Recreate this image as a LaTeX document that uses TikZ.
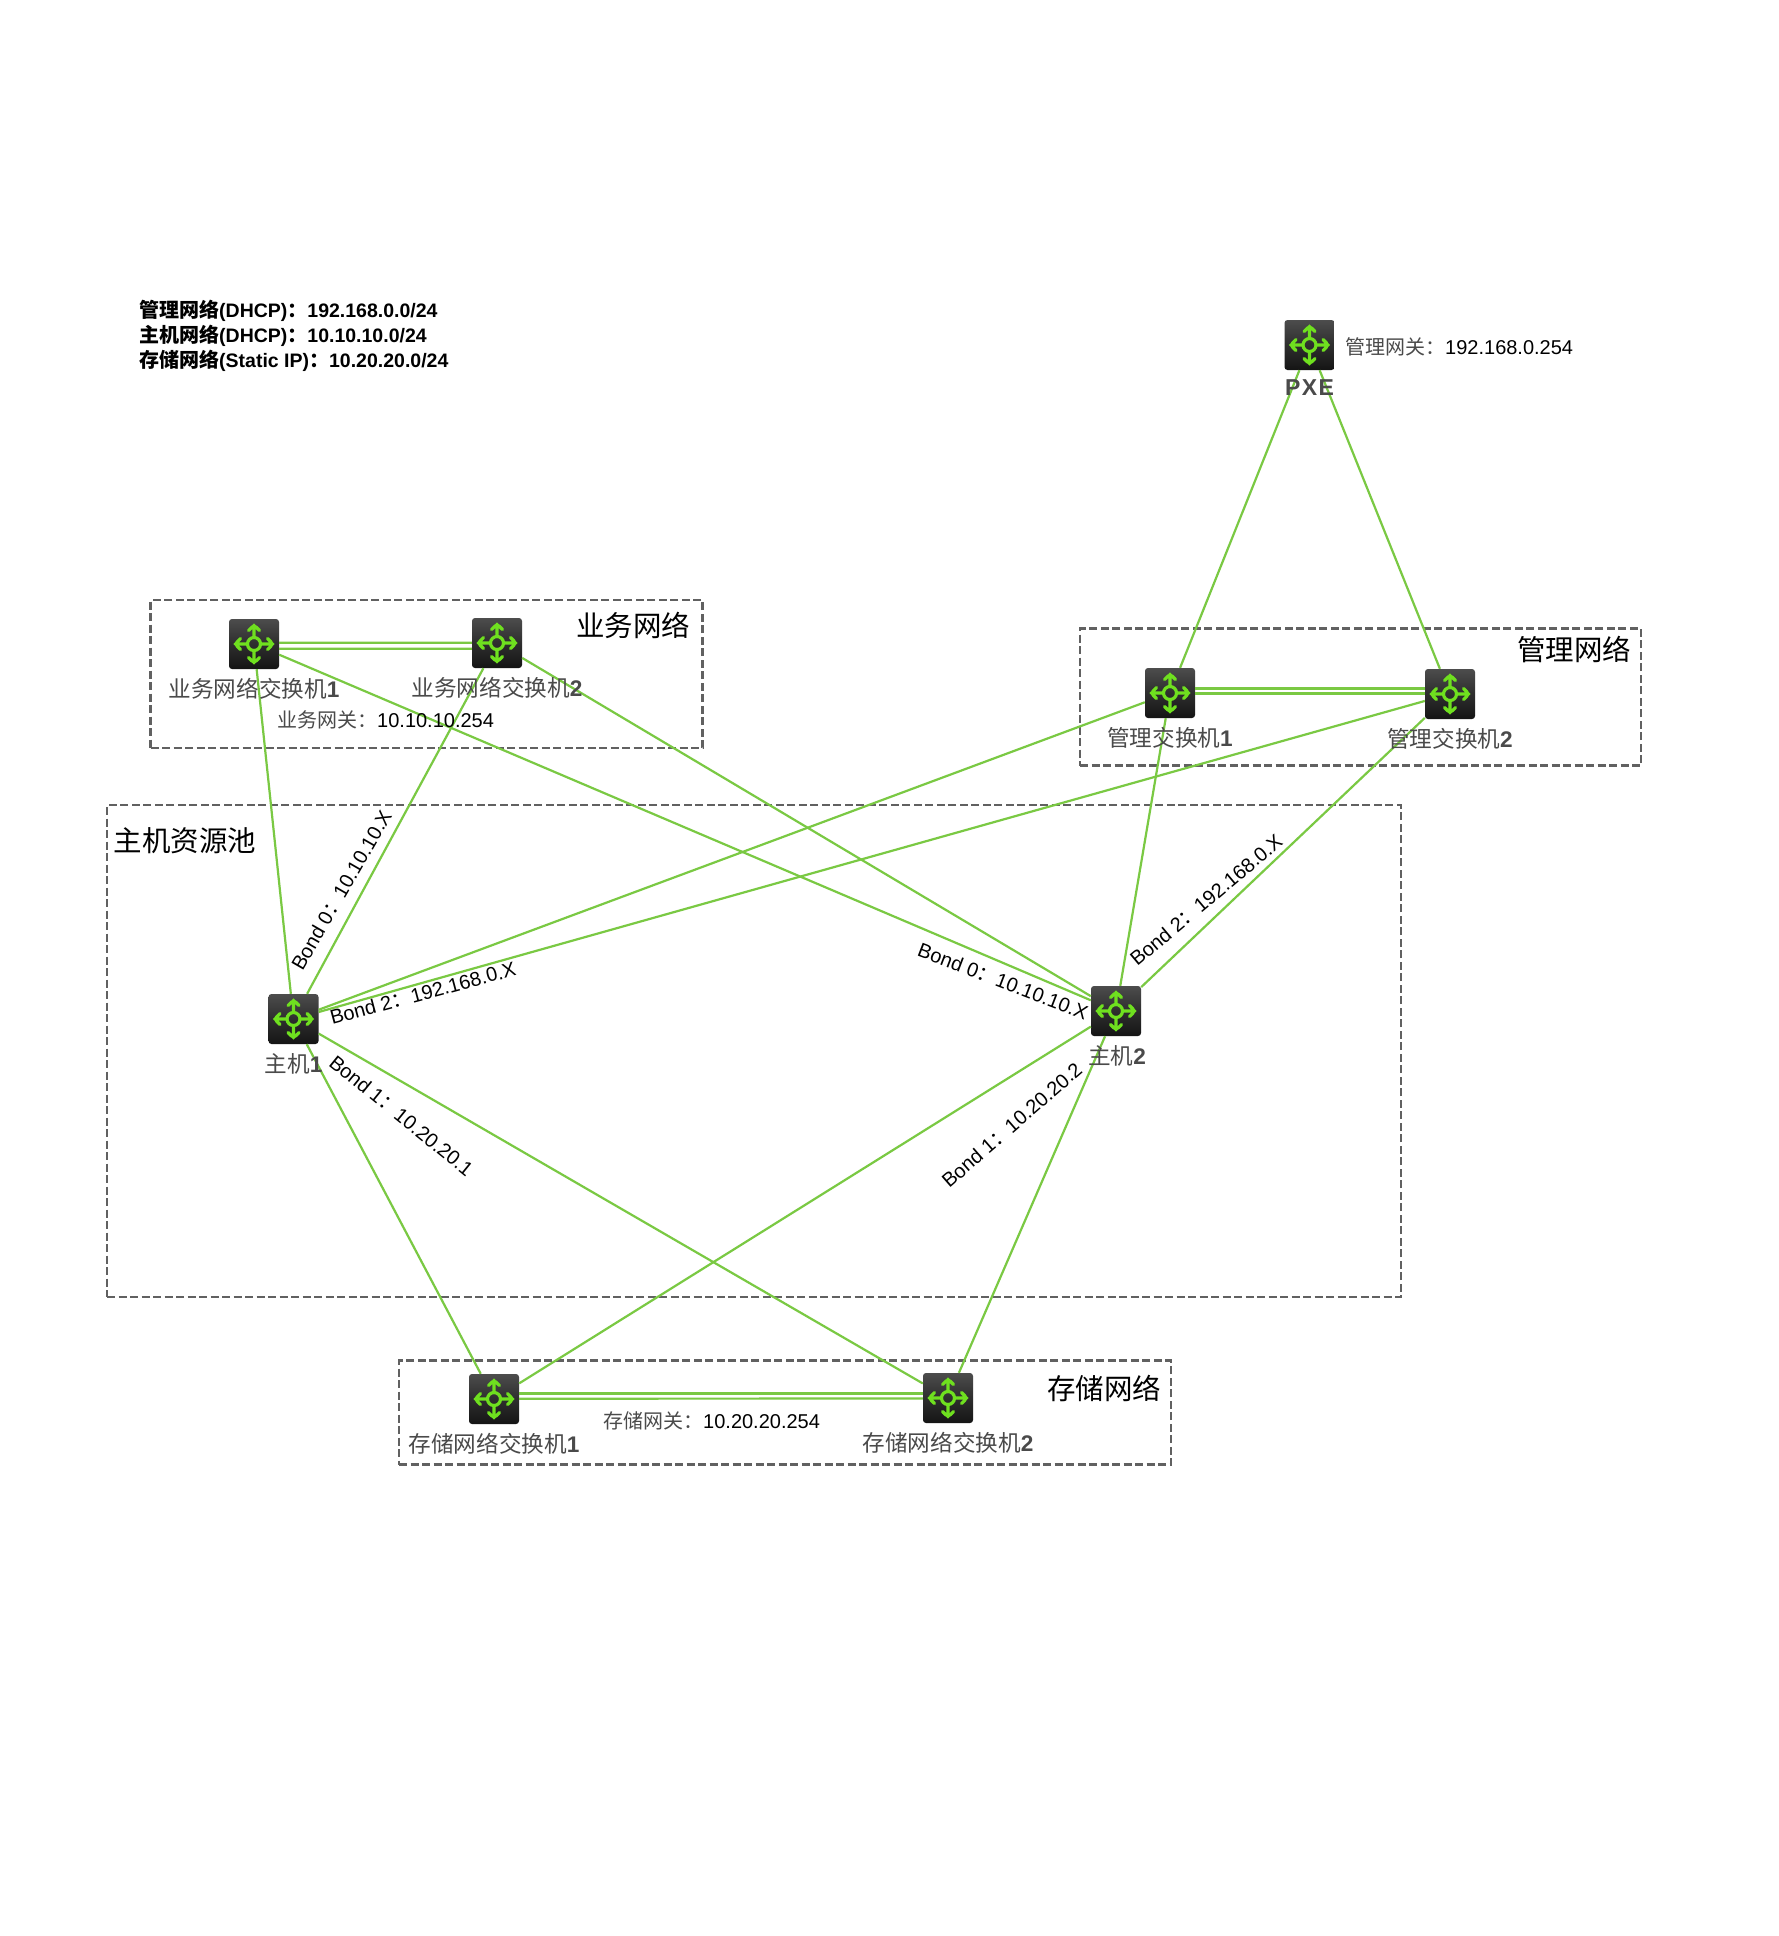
\documentclass[tikz,border=0pt]{standalone}
\usepackage{fontspec}
\setmainfont{Liberation Sans}
\newfontfamily\cjk{Noto Sans CJK SC}
\newcommand{\zh}[1]{{\cjk #1}}
\definecolor{lnk}{HTML}{7AC943}
\definecolor{arw}{HTML}{6FE01F}
\definecolor{lab}{HTML}{4A4A4A}
\newcommand{\devicon}{%
  \begin{scope}[shift={(path picture bounding box.center)},arw,line width=3.2pt,line cap=round,line join=round]
    \draw (0pt,0pt) circle (6.5pt);
    \draw (6.5pt,0pt) -- (19pt,0pt) (13.5pt,5.5pt) -- (19pt,0pt) -- (13.5pt,-5.5pt);
    \draw (-6.5pt,0pt) -- (-19pt,0pt) (-13.5pt,5.5pt) -- (-19pt,0pt) -- (-13.5pt,-5.5pt);
    \draw (0pt,6.5pt) -- (0pt,19pt) (5.5pt,13.5pt) -- (0pt,19pt) -- (-5.5pt,13.5pt);
    \draw (0pt,-6.5pt) -- (0pt,-19pt) (5.5pt,-13.5pt) -- (0pt,-19pt) -- (-5.5pt,-13.5pt);
  \end{scope}}
\tikzset{
  dev/.style={rounded corners=3pt,minimum width=50pt,minimum height=50pt,inner sep=0pt,
    top color=black!70,bottom color=black!92,middle color=black!82,
    path picture={\devicon}},
  lnkline/.style={lnk,line width=2.2pt},
  dbl/.style={lnk,line width=2.2pt},
  groupbox/.style={draw=black!62,line width=2.3pt,dash pattern=on 8pt off 3.5pt,inner sep=0pt},
  devlabel/.style={lab,font=\fontsize{22.6}{24}\selectfont,inner sep=0pt},
  gw/.style={font=\fontsize{20}{22}\selectfont,inner sep=0pt,anchor=west},
  grouptitle/.style={font=\fontsize{28.5}{30}\selectfont,inner sep=0pt},
  rotlabel/.style={font=\fontsize{20}{22}\selectfont,inner sep=0pt},
  legend/.style={font=\bfseries\fontsize{19.5}{22}\selectfont,inner sep=0pt,anchor=west},
}
\begin{document}
\begin{tikzpicture}[x=1pt,y=-1pt]
\useasboundingbox (0,0) rectangle (1779,1936);
\fill[white] (0,0) rectangle (1779,1936);
% group boxes
\node[groupbox,minimum width=552pt,minimum height=148pt] (bizbox) at (426.5,674) {};
\node[groupbox,minimum width=1294pt,minimum height=492pt] (poolbox) at (754,1051) {};
\node[groupbox,minimum width=561pt,minimum height=137pt] (mgmtbox) at (1360.5,697) {};
\node[groupbox,minimum width=772pt,minimum height=104pt] (storbox) at (785,1412.5) {};
% devices
\node[dev] (pxe) at (1309.5,345) {};
\node[dev] (biz1) at (254,644) {};
\node[dev] (biz2) at (497,643) {};
\node[dev] (mgmt1) at (1170,693) {};
\node[dev] (mgmt2) at (1450,694) {};
\node[dev] (host1) at (293.5,1019) {};
\node[dev] (host2) at (1116,1011) {};
\node[dev] (stor1) at (494,1399) {};
\node[dev] (stor2) at (948,1398) {};
% links
\draw[lnkline] (pxe) -- (mgmt1);
\draw[lnkline] (pxe) -- (mgmt2);
\draw[lnkline] (biz1) -- (host1);
\draw[lnkline] (biz1) -- (host2);
\draw[lnkline] (biz2) -- (host1);
\draw[lnkline] (biz2) -- (host2);
\draw[lnkline] (mgmt1) -- (host1);
\draw[lnkline] (mgmt1) -- (host2);
\draw[lnkline] (mgmt2) -- (host1);
\draw[lnkline] (mgmt2) -- (host2);
\draw[lnkline] (host1) -- (stor1);
\draw[lnkline] (host1) -- (stor2);
\draw[lnkline] (host2) -- (stor1);
\draw[lnkline] (host2) -- (stor2);
\draw[dbl] ([yshift=1.2pt]biz1.east) -- ([yshift=0.3pt]biz2.west);
\draw[dbl] ([yshift=-4.8pt]biz1.east) -- ([yshift=-5.7pt]biz2.west);
\draw[dbl] ([yshift=4.5pt]mgmt1.east) -- ([yshift=5.5pt]mgmt2.west);
\draw[dbl] ([yshift=-0.5pt]mgmt1.east) -- ([yshift=0.5pt]mgmt2.west);
\draw[dbl] ([yshift=5.5pt]stor1.east) -- ([yshift=4.5pt]stor2.west);
\draw[dbl] ([yshift=0.3pt]stor1.east) -- ([yshift=-0.5pt]stor2.west);
% device labels
\node[lab,font=\bfseries\fontsize{23}{24}\selectfont,inner sep=0pt] (pxelab) at (1309.5,388) {P\kern1.5pt X\kern1.5pt E};
\node[devlabel] (biz1lab) at (254,689) {\zh{业务网络交换机}\textbf{1}};
\node[devlabel] (biz2lab) at (497,688) {\zh{业务网络交换机}\textbf{2}};
\node[devlabel] (mgmt1lab) at (1170,738) {\zh{管理交换机}\textbf{1}};
\node[devlabel] (mgmt2lab) at (1450,739) {\zh{管理交换机}\textbf{2}};
\node[devlabel] (host1lab) at (293.5,1064) {\zh{主机}\textbf{1}};
\node[devlabel] (host2lab) at (1117,1056) {\zh{主机}\textbf{2}};
\node[devlabel] (stor1lab) at (494,1444) {\zh{存储网络交换机}\textbf{1}};
\node[devlabel] (stor2lab) at (948,1443) {\zh{存储网络交换机}\textbf{2}};
% gateways
\node[gw] (gwpxe) at (1345,347) {\textcolor{lab}{\zh{管理网关：}}192.168.0.254};
\node[gw] (gwbiz) at (277,720) {\textcolor{lab}{\zh{业务网关：}}10.10.10.254};
\node[gw] (gwstor) at (603,1421) {\textcolor{lab}{\zh{存储网关：}}10.20.20.254};
% group titles
\node[grouptitle] (tbiz) at (633,625) {\zh{业务网络}};
\node[grouptitle] (tmgmt) at (1574,649) {\zh{管理网络}};
\node[grouptitle] (tpool) at (185,841) {\zh{主机资源池}};
\node[grouptitle] (tstor) at (1104,1388) {\zh{存储网络}};
% rotated labels
\node[rotlabel,rotate=60] (r1) at (341.4,890) {Bond 0\zh{：}10.10.10.X};
\node[rotlabel,rotate=15] (r2) at (422.8,993) {Bond 2\zh{：}192.168.0.X};
\node[rotlabel,rotate=-39] (r3) at (401.5,1115.5) {Bond 1\zh{：}10.20.20.1};
\node[rotlabel,rotate=-21] (r4) at (1003,981) {Bond 0\zh{：}10.10.10.X};
\node[rotlabel,rotate=40] (r5) at (1206,900) {Bond 2\zh{：}192.168.0.X};
\node[rotlabel,rotate=41] (r6) at (1011.7,1125) {Bond 1\zh{：}10.20.20.2};
% legend
\node[legend] (l1) at (139,311) {{\cjk\fontsize{20}{22}\selectfont 管理网络}(DHCP){\cjk\fontsize{20}{22}\selectfont ：}192.168.0.0/24};
\node[legend] (l2) at (139,336) {{\cjk\fontsize{20}{22}\selectfont 主机网络}(DHCP){\cjk\fontsize{20}{22}\selectfont ：}10.10.10.0/24};
\node[legend] (l3) at (139,361) {{\cjk\fontsize{20}{22}\selectfont 存储网络}(Static IP){\cjk\fontsize{20}{22}\selectfont ：}10.20.20.0/24};
\end{tikzpicture}
\end{document}
